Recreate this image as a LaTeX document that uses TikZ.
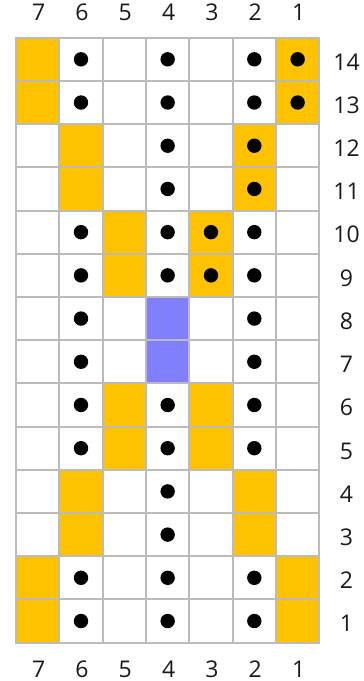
\documentclass[tikz,border=0pt]{standalone}
\usepackage{fontspec}
\setmainfont{Open Sans}
\definecolor{gridgray}{HTML}{BBBBBB}
\definecolor{yel}{HTML}{FFC200}
\definecolor{blu}{HTML}{8080FF}
\begin{document}
\begin{tikzpicture}[x=1pt,y=-1pt,
  cell/.style={draw=gridgray,line width=2pt,minimum width=43.33pt,minimum height=43.21pt,
    inner sep=0pt,outer sep=0pt,fill=white},
  dot/.style={circle,fill=black,minimum size=14.4pt,inner sep=0pt},
  st0/.style={},
  st1/.style={label={[dot]center:}},
  stY/.style={fill=yel},
  stD/.style={fill=yel,label={[dot]center:}},
  stB/.style={fill=blu},
  lab/.style={font=\fontsize{23}{23}\selectfont,inner sep=0pt,anchor=base,text=black!90}]
\useasboundingbox (0,0) rectangle (364,681);
\foreach \r/\codes in {
  14/{Y,1,0,1,0,1,D}, 13/{Y,1,0,1,0,1,D},
  12/{0,Y,0,1,0,D,0}, 11/{0,Y,0,1,0,D,0},
  10/{0,1,Y,1,D,1,0}, 9/{0,1,Y,1,D,1,0},
  8/{0,1,0,B,0,1,0}, 7/{0,1,0,B,0,1,0},
  6/{0,1,Y,1,Y,1,0}, 5/{0,1,Y,1,Y,1,0},
  4/{0,Y,0,1,0,Y,0}, 3/{0,Y,0,1,0,Y,0},
  2/{Y,1,0,1,0,1,Y}, 1/{Y,1,0,1,0,1,Y}}{
  \foreach \k [count=\i from 0] in \codes {
    \pgfmathsetmacro{\cx}{16+43.33*(\i+0.5)}
    \pgfmathsetmacro{\cy}{37.7+43.21*(14-\r+0.5)}
    \pgfmathtruncatemacro{\col}{7-\i}
    \node[cell,st\k] (c-\col-\r) at (\cx,\cy) {};
  }
  \pgfmathsetmacro{\by}{37.7+43.21*(14-\r+0.5)+10.8}
  \node[lab] (rl-\r) at (346.5,\by) {\r};
}
\foreach \i in {0,...,6}{
  \pgfmathsetmacro{\cx}{16+43.33*(\i+0.5)+1}
  \pgfmathtruncatemacro{\col}{7-\i}
  \node[lab] (tl-\col) at (\cx,20.9) {\col};
  \node[lab] (bl-\col) at (\cx,677) {\col};
}
\end{tikzpicture}
\end{document}
